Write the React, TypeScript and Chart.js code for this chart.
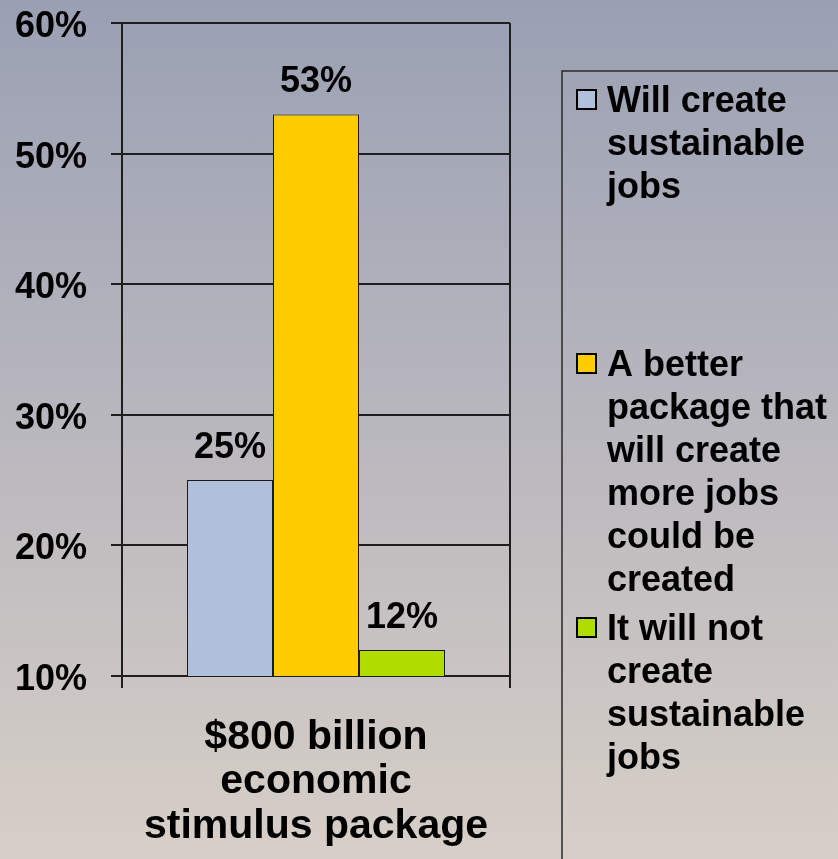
import React, { useEffect, useRef } from "react";
import { Chart, registerables } from "chart.js";

Chart.register(...registerables);

const FONT = "'Liberation Sans', Arial, Helvetica, sans-serif";

const categories = [["$800 billion", "economic", "stimulus package"]];
const seriesLabels = [
  "Will create sustainable jobs",
  "A better package that will create more jobs could be created",
  "It will not create sustainable jobs",
];
const seriesValues = [[25], [53], [12]];
const seriesColors = ["#b0bfdb", "#ffcc00", "#b0dc00"];
const yMin = 10;
const yMax = 60;
const yStep = 10;

function wrapText(ctx: CanvasRenderingContext2D, text: string, maxW: number): string[] {
  const words = text.split(" ");
  const lines: string[] = [];
  let cur = "";
  for (const w of words) {
    const test = cur ? cur + " " + w : w;
    if (cur && ctx.measureText(test).width > maxW) {
      lines.push(cur);
      cur = w;
    } else {
      cur = test;
    }
  }
  if (cur) lines.push(cur);
  return lines;
}

const boxLegend = {
  id: "boxLegend",
  afterDraw(chart: any) {
    const ctx: CanvasRenderingContext2D = chart.ctx;
    const bx = chart.chartArea.right + 52;
    const by = 71;
    ctx.save();
    ctx.strokeStyle = "#2a2a2a";
    ctx.lineWidth = 1.5;
    ctx.strokeRect(bx, by, chart.width - bx + 20, chart.height - by + 20);
    ctx.font = `bold 36px ${FONT}`;
    ctx.textBaseline = "alphabetic";
    ctx.textAlign = "left";
    const textX = bx + 45;
    const maxW = chart.width - textX - 4;
    const slot = 264;
    chart.data.datasets.forEach((ds: any, i: number) => {
      const base = by + 41 + i * slot;
      ctx.fillStyle = ds.backgroundColor;
      ctx.fillRect(bx + 15, base - 22, 19, 19);
      ctx.strokeStyle = "#000";
      ctx.lineWidth = 2;
      ctx.strokeRect(bx + 15, base - 22, 19, 19);
      ctx.fillStyle = "#000";
      const lines = wrapText(ctx, ds.label, maxW);
      lines.forEach((ln, j) => ctx.fillText(ln, textX, base + j * 43));
    });
    ctx.restore();
  },
};

const valueLabels = {
  id: "valueLabels",
  afterDatasetsDraw(chart: any) {
    const ctx: CanvasRenderingContext2D = chart.ctx;
    ctx.save();
    ctx.font = `bold 36px ${FONT}`;
    ctx.fillStyle = "#000";
    ctx.textAlign = "center";
    ctx.textBaseline = "alphabetic";
    chart.data.datasets.forEach((ds: any, i: number) => {
      const meta = chart.getDatasetMeta(i);
      meta.data.forEach((el: any, j: number) => {
        ctx.fillText(ds.data[j] + "%", el.x, el.y - 22);
      });
    });
    ctx.restore();
  },
};

export default function App() {
  const ref = useRef<HTMLCanvasElement>(null);
  useEffect(() => {
    if (!ref.current) return;
    const chart = new Chart(ref.current, {
      type: "bar",
      data: {
        labels: categories as any,
        datasets: seriesLabels.map((label, i) => ({
          label,
          data: seriesValues[i],
          backgroundColor: seriesColors[i],
          borderColor: "#1a1a1a",
          borderWidth: 1,
          categoryPercentage: 0.665,
          barPercentage: 1,
        })),
      },
      options: {
        responsive: false,
        animation: false,
        layout: { padding: { top: 0, right: 328, left: 0, bottom: 0 } },
        plugins: { legend: { display: false }, tooltip: { enabled: false } },
        scales: {
          x: {
            offset: true,
            grid: { display: true, offset: true, color: "#1e1e1e", lineWidth: 2, tickLength: 12, drawTicks: true },
            border: { display: true, color: "#1e1e1e", width: 2 },
            ticks: {
              color: "#000",
              font: { family: FONT, size: 41, weight: "bold", lineHeight: 1.075 },
              padding: 28,
              maxRotation: 0,
              autoSkip: false,
            },
            afterFit: (s: any) => {
              s.height = 183;
            },
          },
          y: {
            min: yMin,
            max: yMax,
            grid: { color: "#1e1e1e", lineWidth: 2, tickLength: 11, drawTicks: true },
            border: { display: true, color: "#1e1e1e", width: 2 },
            ticks: {
              stepSize: yStep,
              color: "#000",
              padding: 24,
              font: { family: FONT, size: 36, weight: "bold", lineHeight: "8px" },
              callback: (v: any) => ["", v + "%"],
            },
            afterFit: (s: any) => {
              s.width = 122;
              s.paddingTop = 23;
              s.paddingBottom = 0;
            },
          },
        },
      },
      plugins: [valueLabels, boxLegend],
    });
    return () => chart.destroy();
  }, []);
  return (
    <div
      style={{
        position: "fixed",
        left: 0,
        top: 0,
        width: 838,
        height: 859,
        background: "linear-gradient(to bottom, #9aa0b3 0%, #b6b5bd 45%, #d7cfc7 100%)",
      }}
    >
      <canvas ref={ref} width={838} height={859} style={{ display: "block" }} />
    </div>
  );
}
